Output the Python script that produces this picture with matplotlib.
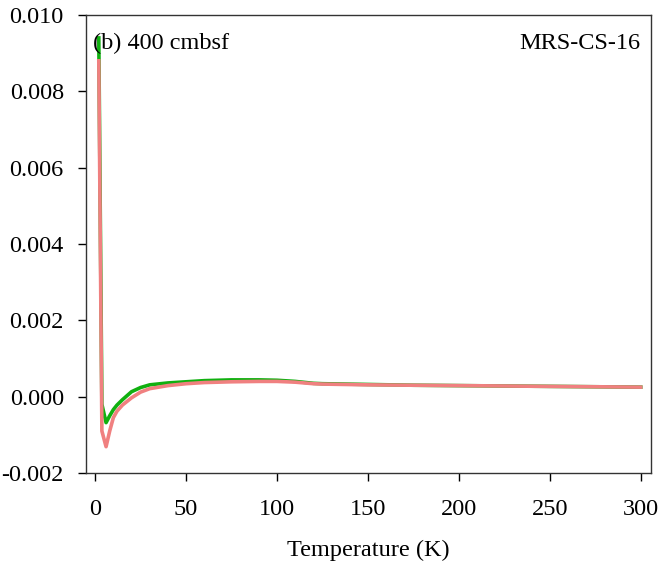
import matplotlib
matplotlib.use('Agg')
import matplotlib.pyplot as plt
from matplotlib.ticker import FormatStrFormatter

plt.rcParams['font.family'] = ['Liberation Serif', 'DejaVu Serif']
plt.rcParams['axes.unicode_minus'] = False

# Температура (K) и восприимчивость для двух кривых
temperature = [2, 3.7, 6, 8, 10, 12, 15, 20, 25, 30, 40, 50, 60, 75, 90,
               100, 110, 120, 125, 150, 175, 200, 225, 250, 275, 300]
green_curve = [0.0094, -0.0002, -0.00068, -0.00050, -0.00034, -0.00022,
               -0.00008, 0.00013, 0.00024, 0.00031, 0.00036, 0.00039,
               0.00042, 0.00044, 0.00044, 0.00043, 0.00040, 0.00035,
               0.00034, 0.00032, 0.00030, 0.00029, 0.00028, 0.00027,
               0.00026, 0.00025]
red_curve = [0.0088, -0.0009, -0.00131, -0.00090, -0.00055, -0.00038,
             -0.00022, -0.00003, 0.00012, 0.00021, 0.00029, 0.00034,
             0.00037, 0.00039, 0.00040, 0.00040, 0.00038, 0.00034,
             0.00033, 0.00031, 0.00030, 0.00029, 0.00028, 0.00027,
             0.00026, 0.00025]

x_ticks = [0, 50, 100, 150, 200, 250, 300]
y_ticks = [-0.002, 0.000, 0.002, 0.004, 0.006, 0.008, 0.010]

fig = plt.figure(figsize=(6.62, 5.69), dpi=100)
ax = fig.add_axes([0.130, 0.1687, 0.853, 0.8049])

ax.plot(temperature, green_curve, color='#10b010', lw=2.6)
ax.plot(temperature, red_curve, color='#f08080', lw=2.6)

ax.set_xlim(-5, 305.5)
ax.set_ylim(-0.002, 0.010)
ax.set_xticks(x_ticks)
ax.set_yticks(y_ticks)
ax.yaxis.set_major_formatter(FormatStrFormatter('%.3f'))
ax.tick_params(direction='out', length=6, width=1, labelsize=17.5)
ax.tick_params(axis='y', pad=10)
ax.tick_params(axis='x', pad=13)
for s in ax.spines.values():
    s.set_linewidth(1)
    s.set_color('#333333')

ax.set_xlabel('Temperature (K)', fontsize=17.5, labelpad=14)
ax.text(0.012, 0.96, '(b) 400 cmbsf', transform=ax.transAxes,
        fontsize=17.5, va='top', ha='left')
ax.text(0.982, 0.96, 'MRS-CS-16', transform=ax.transAxes,
        fontsize=17.5, va='top', ha='right')

plt.savefig('out.png', dpi=100)
